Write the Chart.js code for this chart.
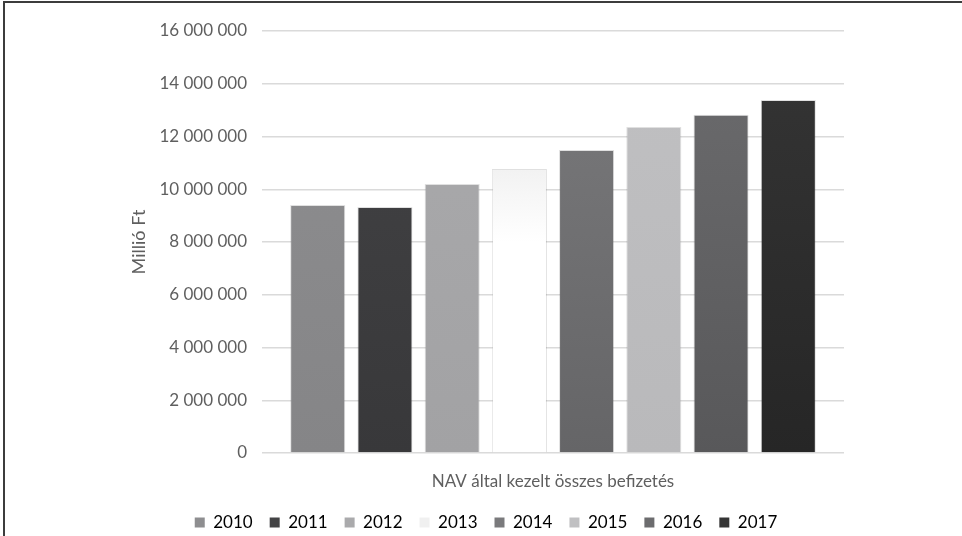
<!DOCTYPE html>
<html>
<head>
<meta charset="utf-8">
<script src="https://cdn.jsdelivr.net/npm/chart.js@4"></script>
<style>
  html, body { margin: 0; padding: 0; background: #fff; }
  #wrap { position: relative; width: 962px; height: 536px; }
  #frame { position: absolute; left: 3px; top: 1px; right: 0; bottom: 0;
           border-left: 2px solid #3c3c3c; border-top: 2px solid #3c3c3c; pointer-events: none; }
</style>
</head>
<body>
<div id="wrap">
  <canvas id="c1" width="962" height="536"></canvas>
  <div id="frame"></div>
</div>
<script>
var categories = ['NAV által kezelt összes befizetés'];
var years = ['2010', '2011', '2012', '2013', '2014', '2015', '2016', '2017'];
var values = [9400000, 9330000, 10200000, 10770000, 11490000, 12360000, 12820000, 13380000];
var colorsTop = ['#8e8e90', '#434345', '#aaaaac', '#d9d9d9', '#7a7a7c', '#c0c0c2', '#6c6c6e', '#353535'];
var colorsBottom = ['#858587', '#38383a', '#a2a2a4', '#ffffff', '#656567', '#b9b9bb', '#58585a', '#262626'];

(function(divId){
    var fmt = (v) => String(v).replace(/\B(?=(\d{3})+(?!\d))/g, ' ');
    var font = 'Lato, "Open Sans", sans-serif';

    function grad(i) {
        return function(ctx) {
            var chart = ctx.chart;
            var area = chart.chartArea;
            if (!area) return colorsTop[i];
            var el = ctx.element;
            var top = el && el.y != null && isFinite(el.y) ? el.y : area.top;
            var g = chart.ctx.createLinearGradient(0, top, 0, area.bottom);
            g.addColorStop(0, colorsTop[i]);
            g.addColorStop(i === 3 ? 0.5 : 1, colorsBottom[i]);
            if (i === 3) g.addColorStop(1, colorsBottom[i]);
            return g;
        };
    }

    var data = {
        labels: categories,
        datasets: years.map((y, i) => ({
            label: y,
            data: [values[i]],
            backgroundColor: grad(i),
            borderColor: 'rgba(0,0,0,0.12)',
            borderWidth: 1,
            categoryPercentage: 0.924,
            barPercentage: 0.82
        }))
    };

    var options = {
        responsive: false,
        animation: false,
        layout: { padding: { left: 128, right: 118, top: 31, bottom: 0 } },
        plugins: {
            tooltip: { enabled: false },
            legend: {
                position: 'bottom',
                maxHeight: 39,
                labels: {
                    color: '#5f5f5f',
                    font: { family: font, size: 17 },
                    boxWidth: 10,
                    boxHeight: 10,
                    padding: 17,
                    generateLabels: (chart) => years.map((y, i) => ({
                        text: y,
                        fillStyle: i === 3 ? '#f0f0f0' : colorsTop[i],
                        strokeStyle: 'rgba(0,0,0,0)',
                        lineWidth: 0,
                        datasetIndex: i
                    }))
                }
            }
        },
        scales: {
            x: {
                afterFit: (scale) => { scale.height = 44; },
                grid: { display: false, drawTicks: false },
                border: { display: false },
                ticks: { color: '#5f5f5f', font: { family: font, size: 17 }, padding: 18 }
            },
            y: {
                min: 0,
                max: 16000000,
                afterFit: (scale) => { scale.width = 262 - 128; },
                ticks: {
                    stepSize: 2000000,
                    color: '#5f5f5f',
                    font: { family: font, size: 17 },
                    padding: 15,
                    callback: (v) => fmt(v)
                },
                grid: { color: '#dadada', lineWidth: 1.5, drawTicks: false },
                border: { display: false },
                title: {
                    display: true,
                    text: 'Millió Ft',
                    color: '#5f5f5f',
                    font: { family: font, size: 18 },
                    padding: { top: 0, bottom: 0 }
                }
            }
        }
    };

    var div = document.getElementById(divId);
    if (!div)
        return;

    var ctx = div.getContext("2d");
    var chart = new Chart(ctx, {
        type: 'bar',
        data: data,
        options: options
    });
})("c1");
</script>
</body>
</html>
